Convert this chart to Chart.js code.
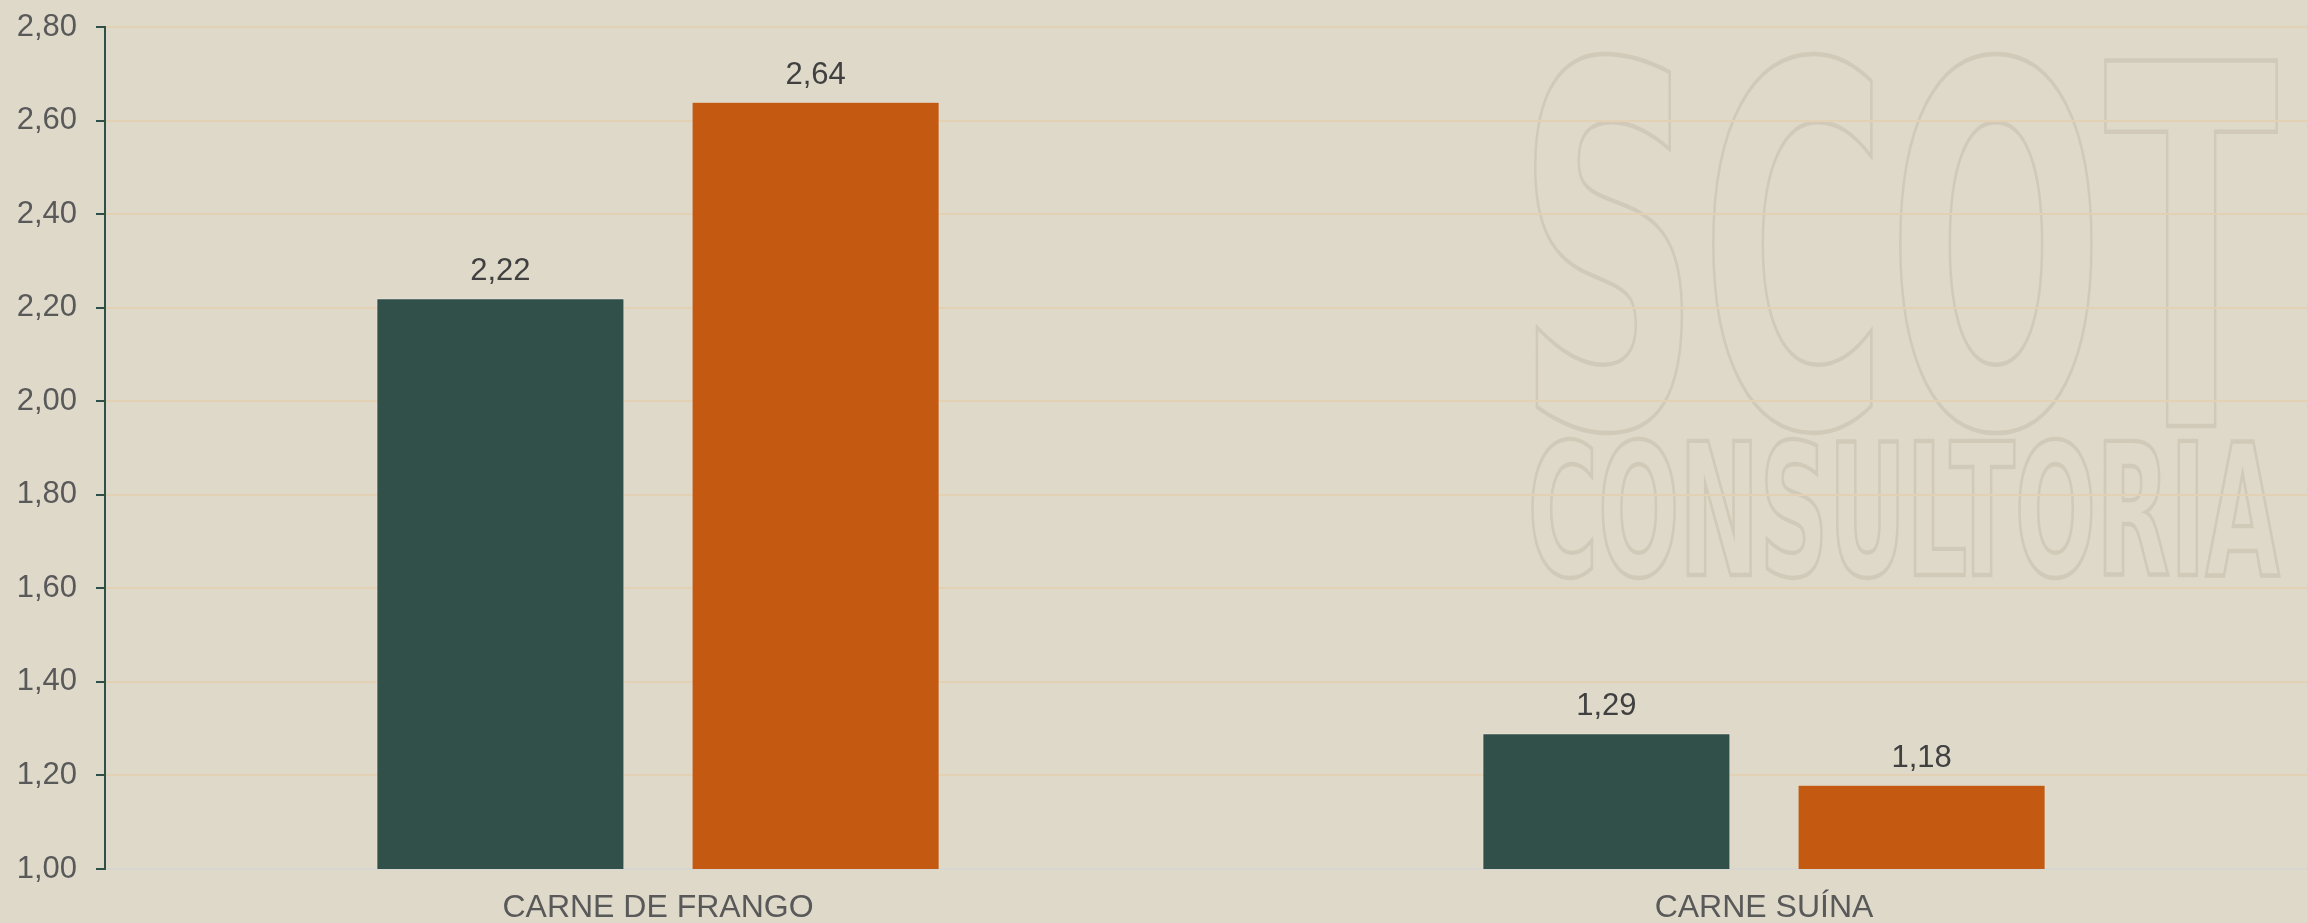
<!DOCTYPE html>
<html>
<head>
<meta charset="utf-8">
<script src="https://cdn.jsdelivr.net/npm/chart.js@4"></script>
<style>
  body { margin: 0; background: #dfd9ca; overflow: hidden; }
  .wrap { width: 2317px; height: 923px; position: relative; }
</style>
</head>
<body>
<div class="wrap"><canvas id="meat-graph"></canvas></div>
<script>
// Data

const categories = ['CARNE DE FRANGO', 'CARNE SUÍNA'];
const seriesGreen = [2.22, 1.29];
const seriesOrange = [2.64, 1.18];
const yMin = 1.0;
const yMax = 2.8;
const yStep = 0.2;

const fmt = (v) => v.toFixed(2).replace('.', ',');

// Background + watermark

const bgPlugin = {
  id: 'bg',
  beforeDraw(chart) {
    const ctx = chart.ctx;
    ctx.save();
    ctx.fillStyle = '#dfd9ca';
    ctx.fillRect(0, 0, chart.width, chart.height);

    // fit outlined text into a box
    const outline = (text, x0, y0, x1, y1) => {
      ctx.save();
      ctx.font = 'bold 100px "DejaVu Sans Condensed", "DejaVu Sans", sans-serif';
      const m = ctx.measureText(text);
      const w = m.actualBoundingBoxLeft + m.actualBoundingBoxRight;
      const h = m.actualBoundingBoxAscent + m.actualBoundingBoxDescent;
      const sx = (x1 - x0) / w;
      const sy = (y1 - y0) / h;
      ctx.translate(x0, y0);
      ctx.scale(sx, sy);
      ctx.lineWidth = 2.5 / Math.min(sx, sy);
      ctx.strokeStyle = 'rgba(160, 150, 125, 0.22)';
      ctx.textBaseline = 'alphabetic';
      ctx.strokeText(text, m.actualBoundingBoxLeft, m.actualBoundingBoxAscent);
      ctx.restore();
    };
    outline('SCOT', 1534, 50, 2277, 431);
    outline('CONSULTORIA', 1532, 437, 2280, 577);
    ctx.restore();
  }
};

// Value labels above bars

const valuePlugin = {
  id: 'values',
  afterDatasetsDraw(chart) {
    const ctx = chart.ctx;
    ctx.save();
    ctx.font = '31px "Liberation Sans", Arial';
    ctx.fillStyle = '#404040';
    ctx.textAlign = 'center';
    ctx.textBaseline = 'alphabetic';
    chart.data.datasets.forEach((ds, i) => {
      chart.getDatasetMeta(i).data.forEach((bar, j) => {
        ctx.fillText(fmt(ds.data[j]), bar.x, bar.y - 18);
      });
    });
    ctx.restore();
  }
};

const meatChart = document.querySelector('#meat-graph');

const meatData = {
  labels: categories,
  datasets: [{
    label: 'Série 1',
    data: seriesGreen,
    backgroundColor: '#31504a',
    borderColor: 'rgba(255, 255, 255, 0.25)',
    borderWidth: 1,
    categoryPercentage: 0.57,
    barPercentage: 0.787
  }, {
    label: 'Série 2',
    data: seriesOrange,
    backgroundColor: '#c45a11',
    borderColor: 'rgba(255, 255, 255, 0.25)',
    borderWidth: 1,
    categoryPercentage: 0.57,
    barPercentage: 0.787
  }]
};

const meatOptions = {
  responsive: true,
  maintainAspectRatio: false,
  animation: false,
  layout: {
    padding: { top: 27, left: 16, right: 0, bottom: 0 }
  },
  scales: {
    x: {
      grid: { display: false, drawTicks: false },
      border: { display: true, color: '#d8d6d0', width: 2 },
      ticks: {
        color: '#595959',
        font: { family: '"Liberation Sans", Arial', size: 32 },
        padding: 20
      },
      afterFit(scale) { scale.height = 54; }
    },
    y: {
      min: yMin,
      max: yMax,
      grid: {
        color: '#e3d1b6',
        lineWidth: 2,
        tickLength: 9,
        tickColor: '#2f5049',
        tickWidth: 2
      },
      border: { display: true, color: '#2f5049', width: 2 },
      ticks: {
        stepSize: yStep,
        color: '#595959',
        font: { family: '"Liberation Sans", Arial', size: 31 },
        padding: 19,
        callback: (v) => fmt(v)
      },
      afterFit(scale) {
        scale.width = 89;
        scale.paddingTop = 0;
        scale.paddingBottom = 0;
      }
    }
  },
  plugins: {
    legend: { display: false },
    tooltip: { enabled: false }
  }
};

const meatBarChart = new Chart(meatChart, {
  type: 'bar',
  data: meatData,
  options: meatOptions,
  plugins: [bgPlugin, valuePlugin]
});
</script>
</body>
</html>
